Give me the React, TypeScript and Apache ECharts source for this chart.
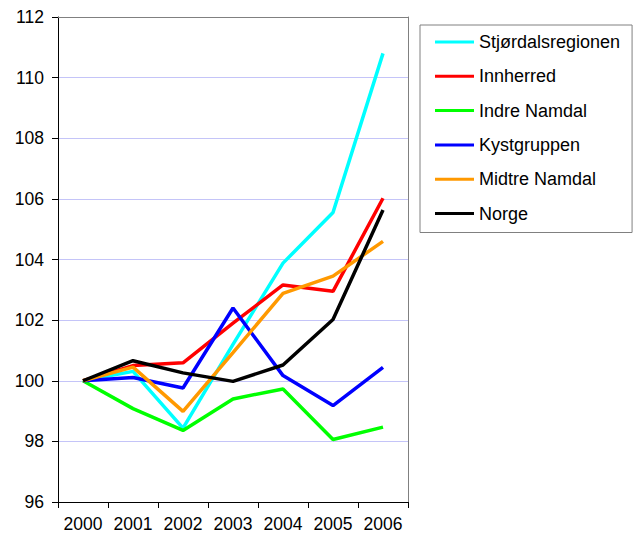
import React, { useEffect, useRef } from "react";
import * as echarts from "echarts";

const years = ["2000", "2001", "2002", "2003", "2004", "2005", "2006"];
const seriesNames = ["Stjørdalsregionen", "Innherred", "Indre Namdal", "Kystgruppen", "Midtre Namdal", "Norge"];
const stjordal = [100, 100.31, 98.44, 101.2, 103.88, 105.55, 110.8];
const innherred = [100, 100.5, 100.59, 101.9, 103.16, 102.95, 106.02];
const indreNamdal = [100, 99.08, 98.36, 99.4, 99.73, 98.06, 98.47];
const kystgruppen = [100, 100.11, 99.76, 102.4, 100.17, 99.18, 100.44];
const midtreNamdal = [100, 100.45, 98.99, 100.93, 102.88, 103.45, 104.6];
const norge = [100, 100.66, 100.26, 99.98, 100.52, 102.02, 105.63];
const seriesValues = [stjordal, innherred, indreNamdal, kystgruppen, midtreNamdal, norge];
const colors = ["#00ffff", "#ff0000", "#00ff00", "#0000ff", "#ff9900", "#000000"];

const FONT = "Arial, 'Liberation Sans', sans-serif";

export default function App() {
  const ref = useRef<HTMLDivElement>(null);
  useEffect(() => {
    document.body.style.margin = "0";
    if (!ref.current) return;
    const chart = echarts.init(ref.current, undefined, { renderer: "svg" });
    chart.setOption({
      animation: false,
      backgroundColor: "#ffffff",
      textStyle: { fontFamily: FONT, color: "#000" },
      grid: { left: 58, top: 17, right: 228, bottom: 39, containLabel: false },
      legend: {
        orient: "vertical",
        left: 420,
        top: 25,
        padding: [7, 12, 9, 15],
        itemGap: 14.3,
        itemWidth: 39,
        itemHeight: 3,
        icon: "rect",
        borderColor: "#808080",
        borderWidth: 1,
        textStyle: { fontFamily: FONT, fontSize: 18, color: "#000", lineHeight: 20 },
        data: seriesNames,
      },
      xAxis: [
        {
          type: "category",
          data: years,
          boundaryGap: true,
          axisLine: { lineStyle: { color: "#000", width: 1 } },
          axisTick: { show: true, interval: 0, length: 6, alignWithLabel: false, lineStyle: { color: "#000" } },
          axisLabel: { interval: 0, hideOverlap: false, fontFamily: FONT, fontSize: 17.5, color: "#000", margin: 13 },
          splitLine: { show: false },
        },
        {
          type: "category",
          data: years,
          position: "top",
          axisLine: { lineStyle: { color: "#808080", width: 1 } },
          axisTick: { show: false },
          axisLabel: { show: false },
          splitLine: { show: false },
        },
      ],
      yAxis: [
        {
          type: "value",
          min: 96,
          max: 112,
          interval: 2,
          axisLine: { show: true, lineStyle: { color: "#000", width: 1 } },
          axisTick: { show: true, length: 6, lineStyle: { color: "#000" } },
          axisLabel: { fontFamily: FONT, fontSize: 17.5, color: "#000", margin: 14 },
          splitLine: { show: true, lineStyle: { color: "#c4c4f8", width: 1 } },
        },
        {
          type: "value",
          min: 96,
          max: 112,
          interval: 2,
          position: "right",
          axisLine: { show: true, lineStyle: { color: "#808080", width: 1 } },
          axisTick: { show: false },
          axisLabel: { show: false },
          splitLine: { show: false },
        },
      ],
      series: seriesNames.map((name, i) => ({
        name,
        type: "line",
        data: seriesValues[i],
        showSymbol: false,
        symbol: "none",
        color: colors[i],
        lineStyle: { color: colors[i], width: 3.5 },
        emphasis: { disabled: true },
        z: 2 + i,
      })),
    });
    return () => chart.dispose();
  }, []);
  return <div ref={ref} style={{ width: 636, height: 541 }} />;
}
